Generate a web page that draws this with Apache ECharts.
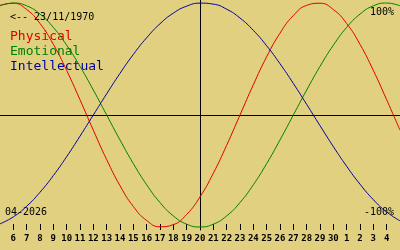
<!DOCTYPE html>
<html>
<head>
<meta charset="utf-8">
<script src="https://cdn.jsdelivr.net/npm/echarts@6/dist/echarts.min.js"></script>
<style>
html,body{margin:0;padding:0;background:#e0d080;}
#c{width:400px;height:250px;}
</style>
</head>
<body>
<div id="c"></div>
<script>
// Days of the window (April 2026, 5 .. 35 where >30 is May)
const days = [5,6,7,8,9,10,11,12,13,14,15,16,17,18,19,20,21,22,23,24,25,26,27,28,29,30,31,32,33,34,35];
const centerDay = 20;
const tickDays = [6,7,8,9,10,11,12,13,14,15,16,17,18,19,20,21,22,23,24,25,26,27,28,29,30,31,32,33,34];
const physical = [0.979,0.998,0.942,0.817,0.631,0.398,0.136,-0.136,-0.398,-0.631,-0.817,-0.942,-0.998,-0.979,-0.888,-0.731,-0.520,-0.270,0,0.270,0.520,0.731,0.888,0.979,0.998,0.942,0.817,0.631,0.398,0.136,-0.136];
const emotional = [0.975,1.000,0.975,0.901,0.782,0.623,0.434,0.223,0,-0.223,-0.434,-0.623,-0.782,-0.901,-0.975,-1.000,-0.975,-0.901,-0.782,-0.623,-0.434,-0.223,0,0.223,0.434,0.623,0.782,0.901,0.975,1.000,0.975];
const intellectual = [-0.972,-0.910,-0.815,-0.690,-0.541,-0.372,-0.189,0,0.189,0.372,0.541,0.690,0.815,0.910,0.972,0.999,0.990,0.945,0.866,0.756,0.618,0.458,0.282,0.095,-0.095,-0.282,-0.458,-0.618,-0.756,-0.866,-0.945];
const birthLabel = '<-- 23/11/1970';
const monthLabel = '04-2026';
const seriesNames = ['Physical','Emotional','Intellectual'];
const topLabel = '100%';
const bottomLabel = '-100%';

const colors = ['#e00000','#008000','#0000a0'];
const font = '"DejaVu Sans Mono", "Liberation Mono", monospace';
const toPts = arr => arr.map((v,i)=>[days[i]-centerDay, v]);
const chart = echarts.init(document.getElementById('c'), null, {renderer:'canvas'});
chart.setOption({
  backgroundColor:'#e0d080',
  animation:false,
  grid:{left:0,right:0,top:0,bottom:20},
  xAxis:[{
    type:'value', min:days[0]-centerDay, max:days[days.length-1]-centerDay,
    axisLine:{show:true,onZero:true,lineStyle:{color:'#000',width:1}},
    axisTick:{show:false}, axisLabel:{show:false}, splitLine:{show:false}
  },{
    type:'value', position:'bottom', min:days[0]-centerDay, max:days[days.length-1]-centerDay,
    axisLine:{show:false,onZero:false},
    axisTick:{show:true,inside:true,length:6,lineStyle:{color:'#000',width:1},
      customValues:tickDays.map(d=>d-centerDay)},
    axisLabel:{show:true,margin:4,color:'#000',fontFamily:font,fontSize:9,fontWeight:'bold',
      customValues:tickDays.map(d=>d-centerDay),
      formatter:v=>{const d=Math.round(v)+centerDay;return String(d>30?d-30:d);}},
    splitLine:{show:false}
  }],
  yAxis:{type:'value',min:-1.027,max:1.027,
    axisLine:{show:true,onZero:true,lineStyle:{color:'#000',width:1}},
    axisTick:{show:false},axisLabel:{show:false},splitLine:{show:false}},
  series:[0,1,2].map(i=>({
    name:seriesNames[i], type:'line', xAxisIndex:0, smooth:true, symbol:'none',
    data:toPts([physical,emotional,intellectual][i]),
    lineStyle:{color:colors[i],width:1}, z:3
  })),
  graphic:[
    {type:'text',left:10,top:12,style:{text:birthLabel,fill:'#000',font:'10px '+font}},
    {type:'text',left:10,top:30,style:{text:seriesNames[0],fill:colors[0],font:'13px '+font}},
    {type:'text',left:10,top:45,style:{text:seriesNames[1],fill:colors[1],font:'13px '+font}},
    {type:'text',left:10,top:60,style:{text:seriesNames[2],fill:colors[2],font:'13px '+font}},
    {type:'text',right:6,top:7,style:{text:topLabel,fill:'#000',font:'10px '+font}},
    {type:'text',right:6,top:207,style:{text:bottomLabel,fill:'#000',font:'10px '+font}},
    {type:'text',left:5,top:207,style:{text:monthLabel,fill:'#000',font:'10px '+font}}
  ]
});
</script>
</body>
</html>
